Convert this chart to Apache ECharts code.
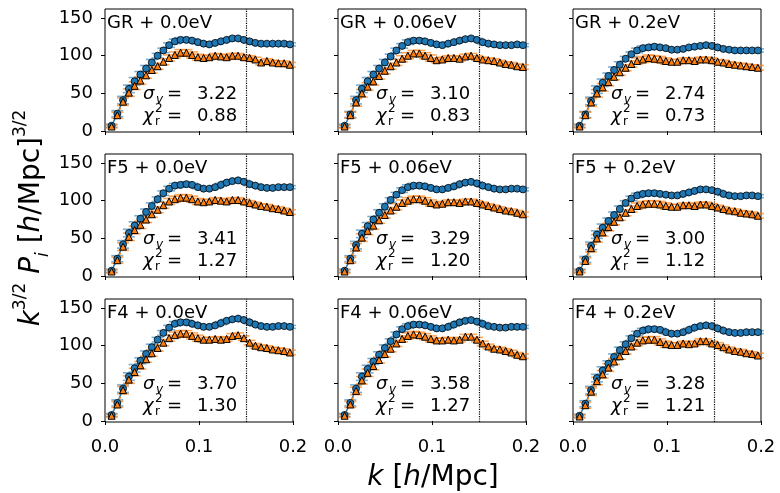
<!DOCTYPE html>
<html><head><meta charset="utf-8">
<script src="https://cdn.jsdelivr.net/npm/echarts@6/dist/echarts.min.js"></script>
<style>html,body{margin:0;padding:0;background:#fff}#c{width:780px;height:493px}</style>
</head><body><div id="c"></div>
<script>
// ---- data ----
const K = [0.0070,0.0131,0.0192,0.0254,0.0315,0.0376,0.0437,0.0498,0.0560,0.0621,0.0682,0.0743,0.0804,0.0866,0.0927,0.0988,
           0.1049,0.1110,0.1172,0.1233,0.1294,0.1355,0.1416,0.1478,0.1539,0.1600,0.1661,0.1722,0.1784,0.1845,0.1906,0.1967];
const B_GR_00  = [7,23,41,56,66,75,83,91,100,107,114,119,121,121,120,118,116,115,117,119,121,123,123,121,119,117,116,116,116,116,116,115];
const B_GR_006 = [7,22,41,56,66,75,83,91,99,107,113,118,120,120,119,117,115,114,116,118,120,122,123,121,118,116,115,114,114,114,115,114];
const B_GR_02  = [7,22,40,55,64,73,81,88,96,102,107,110,111,112,111,110,108,108,109,111,112,113,114,113,111,109,108,107,107,107,107,107];
const B_F5_00  = [7,23,42,57,67,76,85,93,102,110,116,120,121,122,121,118,116,116,118,121,124,126,127,125,122,120,118,117,117,118,118,118];
const B_F5_006 = [7,23,41,56,66,75,84,92,101,108,114,118,120,120,119,117,115,115,117,119,122,124,125,123,120,118,116,115,115,116,116,115];
const B_F5_02  = [7,22,40,55,64,73,81,89,97,103,107,109,110,110,109,108,107,107,109,111,113,115,115,114,112,109,107,106,106,107,107,106];
const B_F4_00  = [8,24,43,59,70,80,89,98,108,117,124,129,131,131,129,127,125,125,127,130,133,135,136,134,131,128,126,125,125,126,126,125];
const B_F4_006 = [8,24,43,59,69,79,88,97,106,115,122,126,128,128,127,125,123,123,125,128,131,133,134,132,129,126,125,124,124,125,125,125];
const B_F4_02  = [7,23,41,57,67,76,85,94,102,110,116,120,122,122,121,118,116,116,118,121,124,126,127,126,123,120,118,117,117,118,118,118];

const O_GR_00  = [6,21,39,51,60,67,74,81,86,92,97,101,104,104,101,98,97,98,100,99,98,100,100,98,97,95,91,93,91,90,90,88];
const O_GR_006 = [6,21,38,50,59,66,73,80,86,91,96,100,103,103,100,97,94,95,97,97,96,99,100,97,95,94,93,91,89,88,86,85];
const O_GR_02  = [6,21,38,50,58,65,72,78,84,89,93,95,97,96,95,93,92,92,94,94,93,95,95,94,92,91,89,88,87,86,85,84];
const O_F5_00  = [6,21,39,52,61,68,75,82,88,94,99,102,104,104,102,99,98,99,101,100,99,101,101,99,97,95,93,92,90,89,87,85];
const O_F5_006 = [6,21,38,51,60,67,74,81,87,92,97,100,102,102,100,97,95,96,98,98,97,99,99,97,95,93,91,89,87,86,84,82];
const O_F5_02  = [6,20,37,50,58,65,72,78,84,89,93,95,96,96,95,93,92,92,94,94,93,95,95,93,91,89,87,86,84,83,82,80];
const O_F4_00  = [7,22,41,55,65,74,82,90,97,104,110,114,116,116,113,110,108,108,109,108,109,113,114,110,104,100,98,97,95,94,93,91];
const O_F4_006 = [7,22,40,54,64,73,81,89,96,103,109,113,115,114,112,109,107,107,108,107,108,112,112,108,103,99,96,95,93,91,88,86];
const O_F4_02  = [6,21,39,53,62,71,79,86,93,99,104,107,108,108,105,102,101,101,103,102,103,106,106,103,101,98,95,93,92,90,89,87];

const ERR_BLUE   = [2,4,5,5,5,4,4,4,3,3,3,3,3,3,2,2,2,2,2,2,2,2,2,2,2,2,2,2,2,2,2,2];
const ERR_ORANGE = [2,4,5,5,5,5,4,4,4,4,4,4,4,4,4,4,3,3,3,3,3,3,3,3,3,3,3,3,3,3,3,3];

const PANEL_LABELS = ['GR + 0.0eV','GR + 0.06eV','GR + 0.2eV','F5 + 0.0eV','F5 + 0.06eV','F5 + 0.2eV','F4 + 0.0eV','F4 + 0.06eV','F4 + 0.2eV'];
const SIGMA_V = ['3.22','3.10','2.74','3.41','3.29','3.00','3.70','3.58','3.28'];
const CHI2_R  = ['0.88','0.83','0.73','1.27','1.20','1.12','1.30','1.27','1.21'];
const BLUE_SETS   = [B_GR_00,B_GR_006,B_GR_02,B_F5_00,B_F5_006,B_F5_02,B_F4_00,B_F4_006,B_F4_02];
const ORANGE_SETS = [O_GR_00,O_GR_006,O_GR_02,O_F5_00,O_F5_006,O_F5_02,O_F4_00,O_F4_006,O_F4_02];
const X_TICKS = [0, 0.1, 0.2];
const Y_TICKS = [0, 50, 100, 150];
const VLINE_K = 0.15;

// ---- layout ----
const FONT = 'DejaVu Sans';
const COL_LEFT = [105, 338, 573], ROW_TOP = [9, 154, 299], GW = 188, GH = 123;
const Y_MIN = -1.3, Y_MAX = 162;
const BLUE = '#1f77b4', ORANGE = '#ff7f0e';

const chart = echarts.init(document.getElementById('c'), null, {renderer: 'canvas'});
const grids = [], xAxes = [], yAxes = [], series = [], graphics = [];

function errSeries(idx, vals, errs, color) {
  return {
    type: 'custom', xAxisIndex: idx, yAxisIndex: idx, silent: true, z: 2, clip: false,
    data: K.map((k, i) => [k, vals[i], errs[i]]),
    encode: {x: 0, y: 1},
    renderItem: (params, api) => {
      const x = api.value(0), y = api.value(1), e = api.value(2);
      const p1 = api.coord([x, y - e]), p2 = api.coord([x, y + e]);
      const w = 6;
      const st = {stroke: color, lineWidth: 1.6};
      return {type: 'group', children: [
        {type: 'line', shape: {x1: p1[0], y1: p1[1], x2: p2[0], y2: p2[1]}, style: st},
        {type: 'line', shape: {x1: p1[0] - w, y1: p1[1], x2: p1[0] + w, y2: p1[1]}, style: st},
        {type: 'line', shape: {x1: p2[0] - w, y1: p2[1], x2: p2[0] + w, y2: p2[1]}, style: st}
      ]};
    }
  };
}

for (let r = 0; r < 3; r++) {
  for (let c = 0; c < 3; c++) {
    const idx = r * 3 + c;
    const left = COL_LEFT[c], top = ROW_TOP[r];
    grids.push({left: left, top: top, width: GW, height: GH, show: true, borderColor: '#000', borderWidth: 1, backgroundColor: 'transparent'});
    xAxes.push({
      type: 'value', gridIndex: idx, min: 0, max: 0.2,
      axisLine: {show: false}, splitLine: {show: false},
      axisTick: {show: true, length: 4, customValues: X_TICKS, lineStyle: {color: '#000', width: 1}},
      axisLabel: {show: r === 2, customValues: X_TICKS, fontSize: 18, fontFamily: FONT, color: '#000', margin: 16,
                  formatter: v => Number(v).toFixed(1)}
    });
    yAxes.push({
      type: 'value', gridIndex: idx, min: Y_MIN, max: Y_MAX,
      axisLine: {show: false}, splitLine: {show: false},
      axisTick: {show: true, length: 4, customValues: Y_TICKS, lineStyle: {color: '#000', width: 1}},
      axisLabel: {show: c === 0, customValues: Y_TICKS, fontSize: 18, fontFamily: FONT, color: '#000', margin: 12}
    });
    const bv = BLUE_SETS[idx], ov = ORANGE_SETS[idx];
    series.push(errSeries(idx, bv, ERR_BLUE, 'rgba(31,119,180,0.6)'));
    series.push(errSeries(idx, ov, ERR_ORANGE, 'rgba(255,127,14,0.7)'));
    series.push({
      type: 'line', xAxisIndex: idx, yAxisIndex: idx, data: K.map((k, i) => [k, bv[i]]),
      showSymbol: false, silent: true, z: 3, lineStyle: {color: BLUE, width: 1.5},
      markLine: {silent: true, symbol: 'none', label: {show: false}, animation: false,
                 lineStyle: {color: '#000', type: 'dotted', width: 1.2}, data: [{xAxis: VLINE_K}]}
    });
    series.push({
      type: 'line', xAxisIndex: idx, yAxisIndex: idx, data: K.map((k, i) => [k, ov[i]]),
      showSymbol: false, silent: true, z: 3, lineStyle: {color: ORANGE, width: 1.5, type: [5, 3]}
    });
    series.push({
      type: 'scatter', xAxisIndex: idx, yAxisIndex: idx, data: K.map((k, i) => [k, bv[i]]),
      symbol: 'circle', symbolSize: 7, z: 4, silent: true,
      itemStyle: {color: BLUE, borderColor: '#000', borderWidth: 0.8, opacity: 1}
    });
    series.push({
      type: 'scatter', xAxisIndex: idx, yAxisIndex: idx, data: K.map((k, i) => [k, ov[i]]),
      symbol: 'triangle', symbolSize: 7, z: 5, silent: true,
      itemStyle: {color: ORANGE, borderColor: '#000', borderWidth: 1, opacity: 1}
    });
    // annotations
    const T = (x, y, text, size, italic) => ({
      type: 'text', x: x, y: y, z: 100, silent: true,
      style: {text: text, fill: '#000', fontSize: size, fontFamily: FONT, fontStyle: italic ? 'italic' : 'normal',
              align: 'left', verticalAlign: 'middle'}
    });
    graphics.push(T(left + 2, top + 14, PANEL_LABELS[idx], 18, false));
    graphics.push(T(left + 38, top + 85, 'σ', 18, true));
    graphics.push(T(left + 51, top + 91, 'v', 12, true));
    graphics.push(T(left + 62, top + 85, '=', 18, false));
    graphics.push(T(left + 92, top + 85, SIGMA_V[idx], 18, false));
    graphics.push(T(left + 38, top + 107, 'χ', 18, true));
    graphics.push(T(left + 50, top + 100, '2', 12, false));
    graphics.push(T(left + 50, top + 113, 'r', 12, false));
    graphics.push(T(left + 62, top + 107, '=', 18, false));
    graphics.push(T(left + 92, top + 107, CHI2_R[idx], 18, false));
  }
}

const mkRich = (fs, sfs) => ({
  m: {fontSize: fs, fontFamily: FONT, lineHeight: fs + 2, verticalAlign: 'middle', fill: '#000'},
  it: {fontSize: fs, fontFamily: FONT, fontStyle: 'italic', lineHeight: fs + 2, verticalAlign: 'middle', fill: '#000'},
  sup: {fontSize: sfs, fontFamily: FONT, lineHeight: sfs, verticalAlign: 'top', fill: '#000'},
  subi: {fontSize: sfs, fontFamily: FONT, fontStyle: 'italic', lineHeight: sfs, verticalAlign: 'bottom', fill: '#000'},
  pad: {fontSize: fs, lineHeight: fs + 12, verticalAlign: 'middle'}
});
graphics.push({
  type: 'text', x: 32, y: 218, rotation: Math.PI / 2, z: 100, silent: true,
  style: {text: '{pad|}{it|k}{sup|3/2}{m| }{it|P}{subi|i}{m| [}{it|h}{m|/Mpc]}{sup|3/2}', rich: mkRich(28, 17),
          align: 'center', verticalAlign: 'middle', fill: '#000'}
});
graphics.push({
  type: 'text', x: 433, y: 478, z: 100, silent: true,
  style: {text: '{it|k}{m| [}{it|h}{m|/Mpc]}', rich: mkRich(28, 17), align: 'center', verticalAlign: 'middle', fill: '#000'}
});

chart.setOption({
  animation: false,
  backgroundColor: '#fff',
  grid: grids, xAxis: xAxes, yAxis: yAxes, series: series, graphic: graphics
});
</script></body></html>
